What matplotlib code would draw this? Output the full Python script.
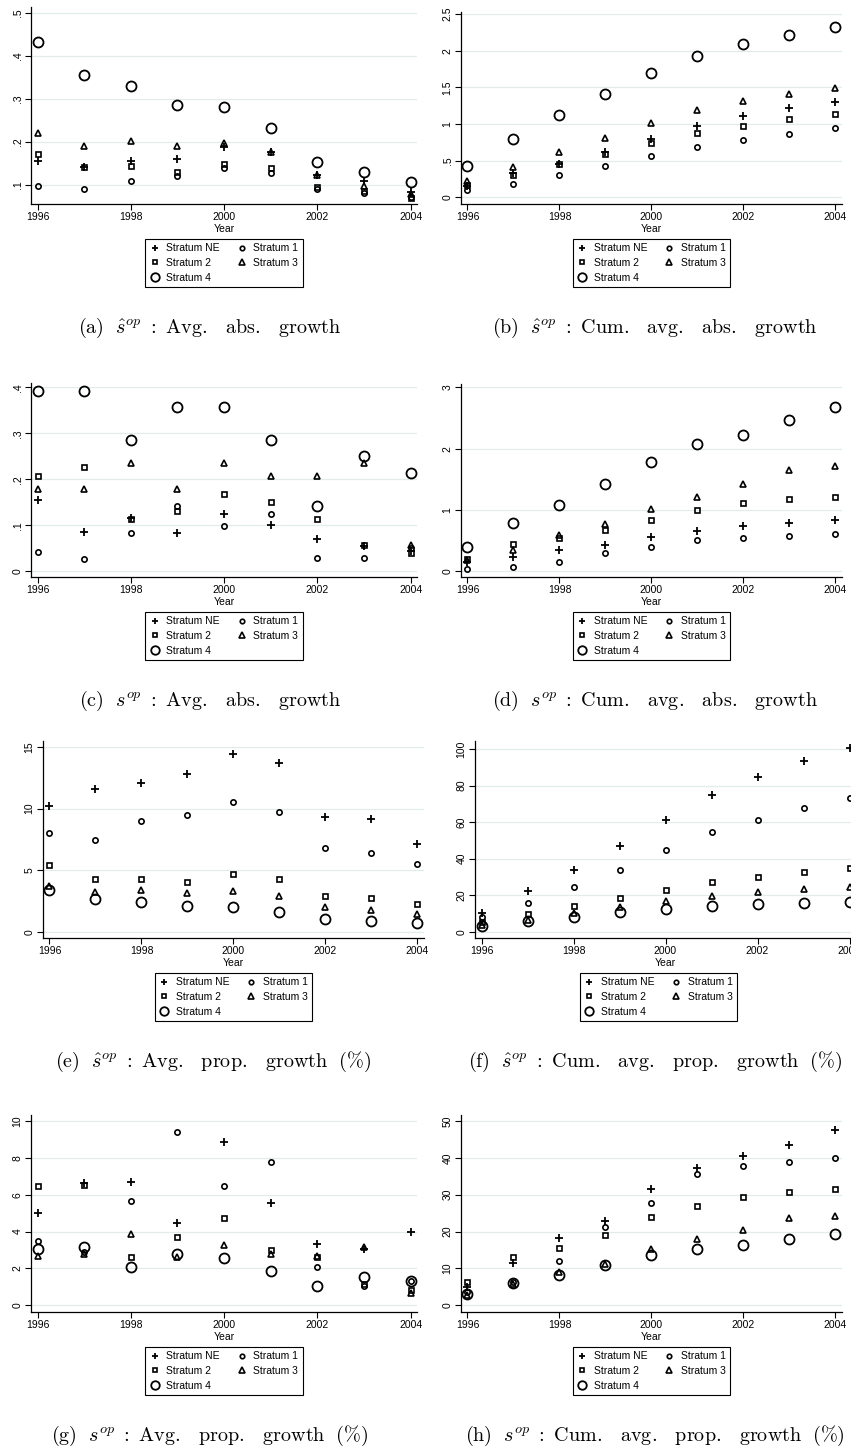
import matplotlib
matplotlib.use('Agg')
import matplotlib.pyplot as plt
from matplotlib.lines import Line2D

plt.rcParams['font.family'] = ['Liberation Sans', 'DejaVu Sans']
plt.rcParams['mathtext.fontset'] = 'cm'

W, H = 851, 1454

YEARS = [1996, 1997, 1998, 1999, 2000, 2001, 2002, 2003, 2004]
XTICKS = [1996, 1998, 2000, 2002, 2004]
SERIES = ['Stratum NE', 'Stratum 1', 'Stratum 2', 'Stratum 3', 'Stratum 4']

# (a) s-hat op : Avg. abs. growth
A_NE = [0.156, 0.142, 0.156, 0.159, 0.187, 0.177, 0.122, 0.109, 0.083]
A_S1 = [0.096, 0.089, 0.109, 0.121, 0.138, 0.127, 0.090, 0.080, 0.071]
A_S2 = [0.172, 0.142, 0.144, 0.129, 0.148, 0.138, 0.095, 0.086, 0.069]
A_S3 = [0.220, 0.191, 0.202, 0.191, 0.198, 0.177, 0.122, 0.098, 0.078]
A_S4 = [0.433, 0.355, 0.330, 0.285, 0.281, 0.231, 0.152, 0.130, 0.106]

# (b) s-hat op : Cum. avg. abs. growth
B_NE = [0.155, 0.330, 0.460, 0.620, 0.790, 0.977, 1.105, 1.214, 1.305]
B_S1 = [0.096, 0.186, 0.300, 0.423, 0.564, 0.690, 0.786, 0.868, 0.940]
B_S2 = [0.170, 0.300, 0.455, 0.586, 0.736, 0.882, 0.973, 1.064, 1.130]
B_S3 = [0.220, 0.418, 0.618, 0.814, 1.009, 1.190, 1.318, 1.414, 1.490]
B_S4 = [0.432, 0.790, 1.123, 1.414, 1.695, 1.930, 2.086, 2.218, 2.327]

# (c) s op : Avg. abs. growth
C_NE = [0.154, 0.086, 0.115, 0.084, 0.125, 0.101, 0.070, 0.054, 0.045]
C_S1 = [0.043, 0.027, 0.084, 0.141, 0.098, 0.125, 0.028, 0.028, 0.050]
C_S2 = [0.207, 0.227, 0.113, 0.131, 0.169, 0.151, 0.114, 0.057, 0.040]
C_S3 = [0.178, 0.178, 0.236, 0.178, 0.236, 0.207, 0.207, 0.236, 0.057]
C_S4 = [0.393, 0.393, 0.286, 0.357, 0.357, 0.286, 0.143, 0.250, 0.214]

# (d) s op : Cum. avg. abs. growth
D_NE = [0.154, 0.240, 0.348, 0.435, 0.565, 0.663, 0.740, 0.790, 0.837]
D_S1 = [0.043, 0.076, 0.152, 0.293, 0.390, 0.516, 0.550, 0.576, 0.614]
D_S2 = [0.207, 0.446, 0.550, 0.674, 0.840, 1.000, 1.114, 1.174, 1.207]
D_S3 = [0.178, 0.350, 0.590, 0.770, 1.010, 1.210, 1.420, 1.650, 1.720]
D_S4 = [0.393, 0.790, 1.076, 1.430, 1.780, 2.076, 2.217, 2.467, 2.685]

# (e) s-hat op : Avg. prop. growth (%)
E_NE = [10.19, 11.62, 12.05, 12.78, 14.40, 13.68, 9.32, 9.16, 7.14]
E_S1 = [8.03, 7.46, 8.97, 9.46, 10.54, 9.73, 6.81, 6.41, 5.46]
E_S2 = [5.38, 4.32, 4.32, 4.05, 4.65, 4.24, 2.92, 2.70, 2.27]
E_S3 = [3.73, 3.24, 3.38, 3.16, 3.30, 2.92, 2.00, 1.78, 1.41]
E_S4 = [3.35, 2.68, 2.43, 2.05, 1.97, 1.57, 1.03, 0.89, 0.73]

# (f) s-hat op : Cum. avg. prop. growth (%)
F_NE = [10.3, 22.1, 33.9, 47.1, 61.1, 74.8, 84.5, 93.6, 100.7]
F_S1 = [8.0, 15.7, 24.5, 33.9, 44.5, 54.4, 61.3, 67.7, 73.0]
F_S2 = [5.4, 9.7, 14.1, 18.2, 22.8, 27.0, 29.9, 32.7, 35.0]
F_S3 = [3.7, 6.6, 10.0, 13.3, 16.8, 19.3, 21.5, 23.2, 24.6]
F_S4 = [3.3, 5.8, 8.2, 10.6, 12.6, 13.9, 15.0, 15.9, 16.4]

# (g) s op : Avg. prop. growth (%)
G_NE = [5.01, 6.62, 6.69, 4.47, 8.88, 5.53, 3.35, 3.07, 4.00]
G_S1 = [3.49, 2.90, 5.68, 9.42, 6.47, 7.76, 2.10, 1.05, 1.30]
G_S2 = [6.46, 6.51, 2.62, 3.69, 4.76, 3.00, 2.64, 1.14, 0.83]
G_S3 = [2.69, 2.78, 3.85, 2.64, 3.29, 2.77, 2.69, 3.15, 0.65]
G_S4 = [3.04, 3.15, 2.06, 2.80, 2.57, 1.84, 1.07, 1.56, 1.32]

# (h) s op : Cum. avg. prop. growth (%)
H_NE = [5.0, 11.6, 18.3, 23.0, 31.6, 37.3, 40.6, 43.6, 47.6]
H_S1 = [3.5, 6.4, 11.9, 21.3, 27.8, 35.6, 37.8, 38.8, 40.0]
H_S2 = [6.45, 13.0, 15.6, 19.2, 24.0, 26.9, 29.5, 30.7, 31.6]
H_S3 = [2.7, 5.9, 9.1, 11.2, 15.3, 18.0, 20.5, 23.7, 24.3]
H_S4 = [3.0, 6.1, 8.1, 10.85, 13.56, 15.4, 16.3, 17.9, 19.3]

YT_A = [0.1, 0.2, 0.3, 0.4, 0.5]
YL_A = ['.1', '.2', '.3', '.4', '.5']
YT_B = [0, 0.5, 1, 1.5, 2, 2.5]
YL_B = ['0', '.5', '1', '1.5', '2', '2.5']
YT_C = [0, 0.1, 0.2, 0.3, 0.4]
YL_C = ['0', '.1', '.2', '.3', '.4']
YT_D = [0, 1, 2, 3]
YL_D = ['0', '1', '2', '3']
YT_E = [0, 5, 10, 15]
YL_E = ['0', '5', '10', '15']
YT_F = [0, 20, 40, 60, 80, 100]
YL_F = ['0', '20', '40', '60', '80', '100']
YT_G = [0, 2, 4, 6, 8, 10]
YL_G = ['0', '2', '4', '6', '8', '10']
YT_H = [0, 10, 20, 30, 40, 50]
YL_H = ['0', '10', '20', '30', '40', '50']

SP = r'\ \ \,'
CAPTIONS = [
    r'$\mathrm{(a)}\ \ \hat{s}^{op}\ \mathrm{:\ Avg.' + SP + r'abs.' + SP + r'growth}$',
    r'$\mathrm{(b)}\ \ \hat{s}^{op}\ \mathrm{:\ Cum.' + SP + r'avg.' + SP + r'abs.' + SP + r'growth}$',
    r'$\mathrm{(c)}\ \ s^{op}\ \mathrm{:\ Avg.' + SP + r'abs.' + SP + r'growth}$',
    r'$\mathrm{(d)}\ \ s^{op}\ \mathrm{:\ Cum.' + SP + r'avg.' + SP + r'abs.' + SP + r'growth}$',
    r'$\mathrm{(e)}\ \ \hat{s}^{op}\ \mathrm{:\ Avg.' + SP + r'prop.' + SP + r'growth\ \ (\%)}$',
    r'$\mathrm{(f)}\ \ \hat{s}^{op}\ \mathrm{:\ Cum.' + SP + r'avg.' + SP + r'prop.' + SP + r'growth\ \ (\%)}$',
    r'$\mathrm{(g)}\ \ s^{op}\ \mathrm{:\ Avg.' + SP + r'prop.' + SP + r'growth\ \ (\%)}$',
    r'$\mathrm{(h)}\ \ s^{op}\ \mathrm{:\ Cum.' + SP + r'avg.' + SP + r'prop.' + SP + r'growth\ \ (\%)}$',
]

STYLES = [
    dict(marker='+', ms=5.5, mew=1.3),
    dict(marker='o', ms=3.8, mew=1.2, mfc='none'),
    dict(marker='s', ms=3.6, mew=1.2, mfc='none'),
    dict(marker='^', ms=4.4, mew=1.2, mfc='none'),
    dict(marker='o', ms=7.2, mew=1.3, mfc='none'),
]

# panel layout in pixels: left, right, top, bottom of the plot region,
# and pixel positions of two reference y values
PANELS = [
    dict(data=[A_NE, A_S1, A_S2, A_S3, A_S4], yt=YT_A, yl=YL_A,
         box=(31, 417, 7, 204), ref=((0.5, 12.7), (0.1, 184.7)), cap_x=210),
    dict(data=[B_NE, B_S1, B_S2, B_S3, B_S4], yt=YT_B, yl=YL_B,
         box=(461, 842, 12, 204), ref=((2.5, 14.0), (0.0, 197.3)), cap_x=655),
    dict(data=[C_NE, C_S1, C_S2, C_S3, C_S4], yt=YT_C, yl=YL_C,
         box=(31, 417, 383, 577), ref=((0.4, 387.3), (0.0, 571.3)), cap_x=210),
    dict(data=[D_NE, D_S1, D_S2, D_S3, D_S4], yt=YT_D, yl=YL_D,
         box=(461, 842, 384, 577), ref=((3.0, 387.3), (0.0, 571.3)), cap_x=655),
    dict(data=[E_NE, E_S1, E_S2, E_S3, E_S4], yt=YT_E, yl=YL_E,
         box=(43, 424, 741, 938), ref=((15, 747.0), (0, 931.7)), cap_x=213),
    dict(data=[F_NE, F_S1, F_S2, F_S3, F_S4], yt=YT_F, yl=YL_F,
         box=(475, 856, 741, 938), ref=((100, 749.0), (0, 931.7)), cap_x=655),
    dict(data=[G_NE, G_S1, G_S2, G_S3, G_S4], yt=YT_G, yl=YL_G,
         box=(31, 417, 1115, 1312), ref=((10, 1121.0), (0, 1305.3)), cap_x=210),
    dict(data=[H_NE, H_S1, H_S2, H_S3, H_S4], yt=YT_H, yl=YL_H,
         box=(461, 842, 1115, 1312), ref=((50, 1121.0), (0, 1305.3)), cap_x=655),
]

fig = plt.figure(figsize=(W / 100, H / 100), dpi=100)

for i, p in enumerate(PANELS):
    l, r, t, b = p['box']
    ax = fig.add_axes([l / W, 1 - b / H, (r - l) / W, (b - t) / H])
    for ser, st in zip(p['data'], STYLES):
        ax.plot(YEARS, ser, ls='none', color='black', mec='black', **st, zorder=3)
    # x limits: 1996 and 2004 sit ~6.5 px inside the plot region
    ppy = (r - l - 13) / 8.0
    ax.set_xlim(1996 - 6.5 / ppy, 2004 + 6.5 / ppy)
    (v1, p1), (v2, p2) = p['ref']
    ppu = (p2 - p1) / (v1 - v2)
    ax.set_ylim(v2 - (b - p2) / ppu, v1 + (p1 - t) / ppu)
    ax.set_xticks(XTICKS)
    ax.set_xticklabels([str(x) for x in XTICKS])
    ax.set_yticks(p['yt'])
    ax.set_yticklabels(p['yl'], rotation=90, va='center')
    ax.yaxis.grid(True, color='#e2ecec', lw=0.9)
    ax.set_axisbelow(True)
    for s in ('top', 'right'):
        ax.spines[s].set_visible(False)
    for s in ('left', 'bottom'):
        ax.spines[s].set_linewidth(0.9)
    ax.tick_params(direction='out', length=4, width=0.8, labelsize=7.5, pad=2,
                   colors='black')
    ax.minorticks_off()
    ax.set_xlabel('Year', fontsize=7.5, labelpad=1)

    # legend (row-major order: NE,1 / 2,3 / 4)
    handles = []
    for k in (0, 2, 4, 1, 3):
        handles.append(Line2D([], [], ls='none', color='black', **STYLES[k]))
    labels = [SERIES[k] for k in (0, 2, 4, 1, 3)]
    cx = (l + r) / 2.0 if i % 2 == 0 else (l + 842) / 2.0
    leg = fig.legend(handles, labels, ncol=2, loc='upper center',
                     bbox_to_anchor=(cx / W, 1 - (b + 35) / H),
                     fontsize=7.5, frameon=True, fancybox=False, framealpha=1,
                     edgecolor='black', handlelength=1.0, handletextpad=0.6,
                     columnspacing=1.6, labelspacing=0.45, borderpad=0.42,
                     borderaxespad=0, markerscale=0.85)
    leg.get_frame().set_linewidth(0.8)

    fig.text(p['cap_x'] / W, 1 - (b + 124) / H, CAPTIONS[i],
             ha='center', va='center', fontsize=14.5)

fig.savefig('out.png', dpi=100)
